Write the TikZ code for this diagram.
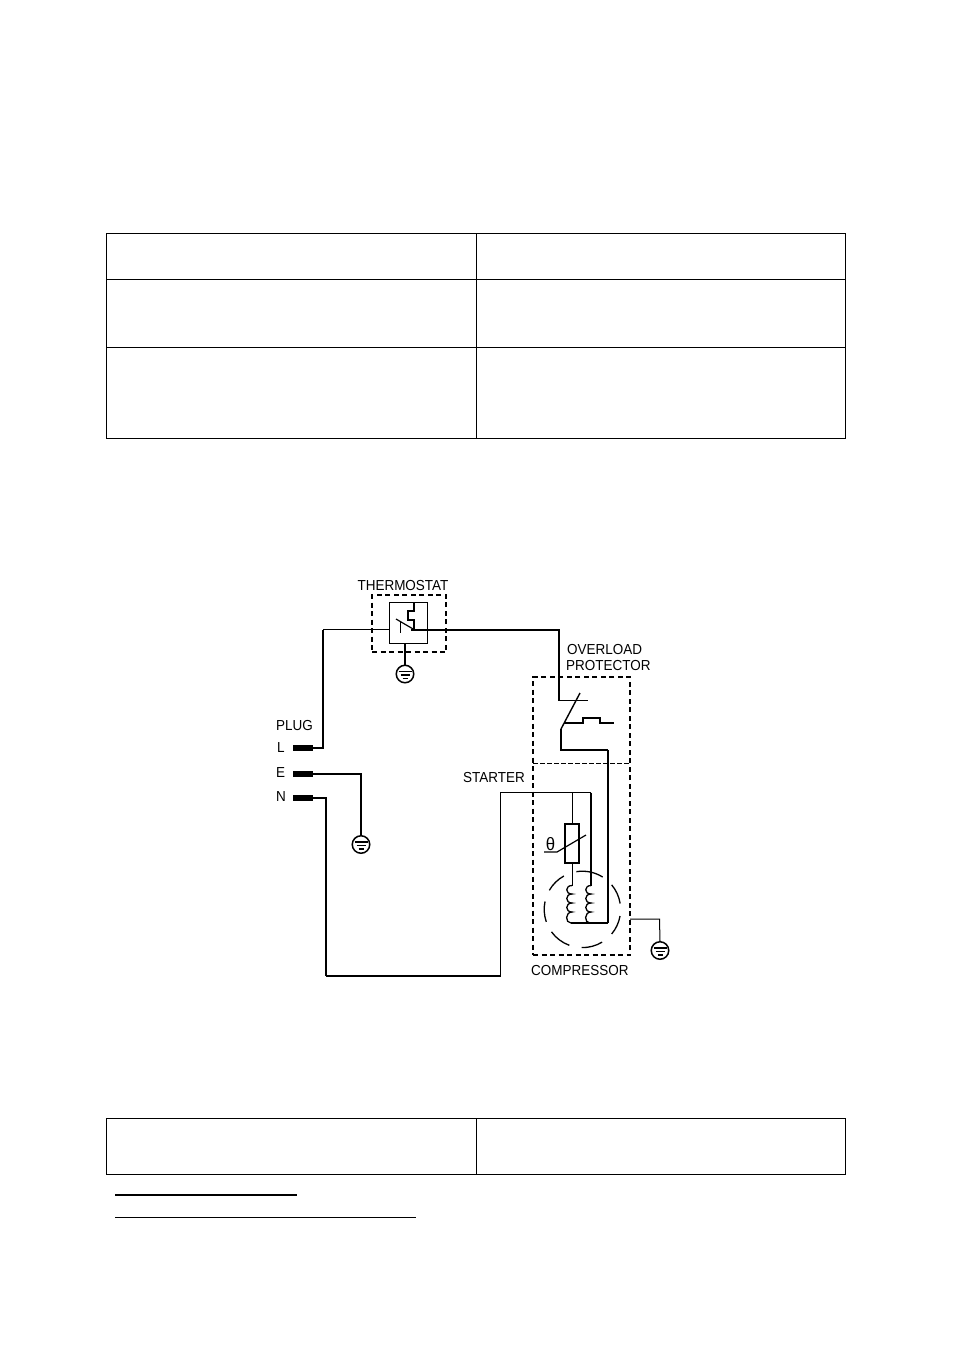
\documentclass[tikz,border=0pt]{standalone}
\usepackage{fontspec}
\setmainfont{Liberation Sans}
\newfontfamily\lblfont[FakeStretch=0.93]{Liberation Sans}
\usetikzlibrary{calc}
\tikzset{
  thin wire/.style={line width=1pt,line join=miter},
  thick wire/.style={line width=2pt,line join=miter},
  rule line/.style={line width=1pt},
  dash box/.style={draw,line width=1.6pt,dash pattern=on 5pt off 3.5pt,inner sep=0pt,fill=none},
  plain box/.style={draw,line width=1pt,inner sep=0pt,fill=none},
  plug bar/.style={fill=black,inner sep=0pt,minimum width=20pt,minimum height=6pt},
  gnd circle/.style={circle,draw,line width=1.5pt,minimum size=17.5pt,inner sep=0pt},
  part label/.style={font=\lblfont\fontsize{14.5pt}{15pt}\selectfont,inner sep=0pt},
  end label/.style={part label,anchor=west},
}
\newcommand{\gndmarks}[1]{%
  \draw[line width=1.7pt] ($(#1)+(-6.5,-2.5)$) -- ($(#1)+(6.5,-2.5)$);
  \draw[line width=1.7pt] ($(#1)+(-4.5,1)$) -- ($(#1)+(4.5,1)$);
  \draw[line width=1.7pt] ($(#1)+(-2.5,4.5)$) -- ($(#1)+(2.5,4.5)$);
}
\newcommand{\coilpath}[2]{%
  % #1 = x of wire, #2 = name prefix
  \draw[line width=1.3pt] (#1,885.5)
    .. controls (#1-7,885.5) and (#1-7,894) .. (#1,894)
    .. controls (#1-7,894) and (#1-7,903) .. (#1,903)
    .. controls (#1-7,903) and (#1-7,912) .. (#1,912)
    .. controls (#1-7,912) and (#1-7,923) .. (#1-1,923);
}
\begin{document}
\begin{tikzpicture}[x=1pt,y=-1pt]
\useasboundingbox (0,0) rectangle (954,1345);
\fill[white] (0,0) rectangle (954,1345);

% upper table
\draw[rule line] (106.5,233.5) rectangle (845.5,438.5);
\draw[rule line] (106.5,279.5) -- (845.5,279.5);
\draw[rule line] (106.5,347.5) -- (845.5,347.5);
\draw[rule line] (476.5,233.5) -- (476.5,438.5);

% lower table and rules
\draw[rule line] (106.5,1118.5) rectangle (845.5,1174.5);
\draw[rule line] (476.5,1118.5) -- (476.5,1174.5);
\draw[line width=2pt] (115,1195) -- (297,1195);
\draw[line width=1pt] (115,1217.5) -- (416,1217.5);

% labels
\node[part label] (tThermo) at (403,585) {THERMOSTAT};
\node[end label] (tOver) at (567,649) {OVERLOAD};
\node[end label] (tProt) at (566,665) {PROTECTOR};
\node[end label] (tPlug) at (276,725) {PLUG};
\node[end label] (tL) at (277,748) {L};
\node[end label] (tE) at (276,773) {E};
\node[end label] (tN) at (276,796) {N};
\node[end label] (tStart) at (463,777) {STARTER};
\node[end label] (tComp) at (531,970) {COMPRESSOR};
\node[font=\lblfont\fontsize{18pt}{18pt}\selectfont,inner sep=0pt] (tTheta) at (550.5,844) {θ};

% thermostat
\node[dash box,minimum width=74pt,minimum height=57pt] (thermoBox) at (409,623.5) {};
\node[plain box,minimum width=38pt,minimum height=41pt] (thermoIn) at (408,622.5) {};
\coordinate (swOut) at (411,629.5);
\draw[line width=1.2pt] (396,619) -- (414,629.5);
\draw[line width=1pt] (400,622) -- (400,633);
\draw[line width=1.6pt] (411,629.5) -- (414,629.5) -- (414,620) -- (408,620) -- (408,611) -- (414,611) -- (414,602);

% plug pins
\node[plug bar] (pinL) at (303,748) {};
\node[plug bar] (pinE) at (303,774) {};
\node[plug bar] (pinN) at (303,798) {};

% grounds
\node[gnd circle] (gndT) at (405,674) {};
\node[gnd circle] (gndE) at (361,844.5) {};
\node[gnd circle] (gndC) at (660,950.5) {};
\gndmarks{gndT}\gndmarks{gndE}\gndmarks{gndC}

% dashed housings
\node[dash box,minimum width=97pt,minimum height=278pt] (housing) at (581.5,816) {};
\draw[line width=1pt,dash pattern=on 4.5pt off 2.5pt] (533,763.5) -- (630,763.5);

% wires
\coordinate (jL) at (323,748);
\coordinate (jTop) at (323,629.5);
\draw[thick wire] (pinL.east) -- (jL) -- (jTop);
\draw[thin wire] (jTop) -- (jTop -| thermoIn.west);
\coordinate (jR) at (558.5,629.5);
\coordinate (jO) at (558.5,700);
\coordinate (jOe) at (588,700);
\draw[thick wire] (swOut) -- (jR) -- (jO);
\draw[thin wire] (558,700) -- (jOe);
\draw[thick wire] (thermoIn.south -| gndT) -- (gndT.north);
\draw[thick wire] (pinE.east) -- (pinE.east -| gndE) -- (gndE.north);

% overload switch
\coordinate (ovTip) at (580,693);
\coordinate (ovHinge) at (561,729);
\draw[line width=1.4pt] (ovTip) -- (ovHinge);
\draw[line width=1.8pt] (564,723) -- (583,723) -- (583,718) -- (600,718) -- (600,723) -- (614,723);
\coordinate (ovA) at (561,750);
\coordinate (ovB) at (608,750);
\coordinate (coilBot) at (608,923);
\draw[line width=1.6pt] (ovHinge) -- (ovA) -- (ovB);
\draw[line width=1.5pt] (ovB) -- (coilBot);

% N line and starter
\coordinate (nA) at (326,798);
\coordinate (nB) at (326,975.5);
\coordinate (nC) at (500.5,975.5);
\coordinate (nD) at (500.5,792.5);
\coordinate (jS) at (572,792.5);
\coordinate (jM) at (591,792.5);
\draw[line width=1.3pt] (pinN.east) -- (nA) -- (nB);
\draw[thick wire] (nB) -- (nC);
\draw[line width=1.2pt] (nC) -- (nD) -- (jS);
\draw[line width=1.6pt] (jS) -- (jM);
\draw[line width=2pt] (jM) -- (591,885.5);
\node[draw,line width=1.6pt,minimum width=14pt,minimum height=39pt,inner sep=0pt] (ptc) at (572,843.5) {};
\draw[thin wire] (jS) -- (ptc.north);
\draw[thin wire] (ptc.south) -- (572,885.5);
\draw[line width=1.2pt] (544,852) -- (557,852) -- (586,835);

% coils
\coilpath{572}{a}
\coilpath{591}{b}
\draw[line width=1.5pt] (571,923) -- (coilBot);

% motor circle
\coordinate (mc) at (582.4,909.4);
\foreach \a/\b in {241/210,192/161,144/110,91/59,40/10,-9/-40,-58/-99}{
  \draw[line width=1.3pt] ($(mc)+(\a:38.2)$) arc[start angle=\a,end angle=\b,radius=38.2];
}

% compressor earth
\coordinate (cE) at (659.5,919);
\draw[thin wire] (630,919) -- (cE) -- (gndC.north);
\end{tikzpicture}
\end{document}
